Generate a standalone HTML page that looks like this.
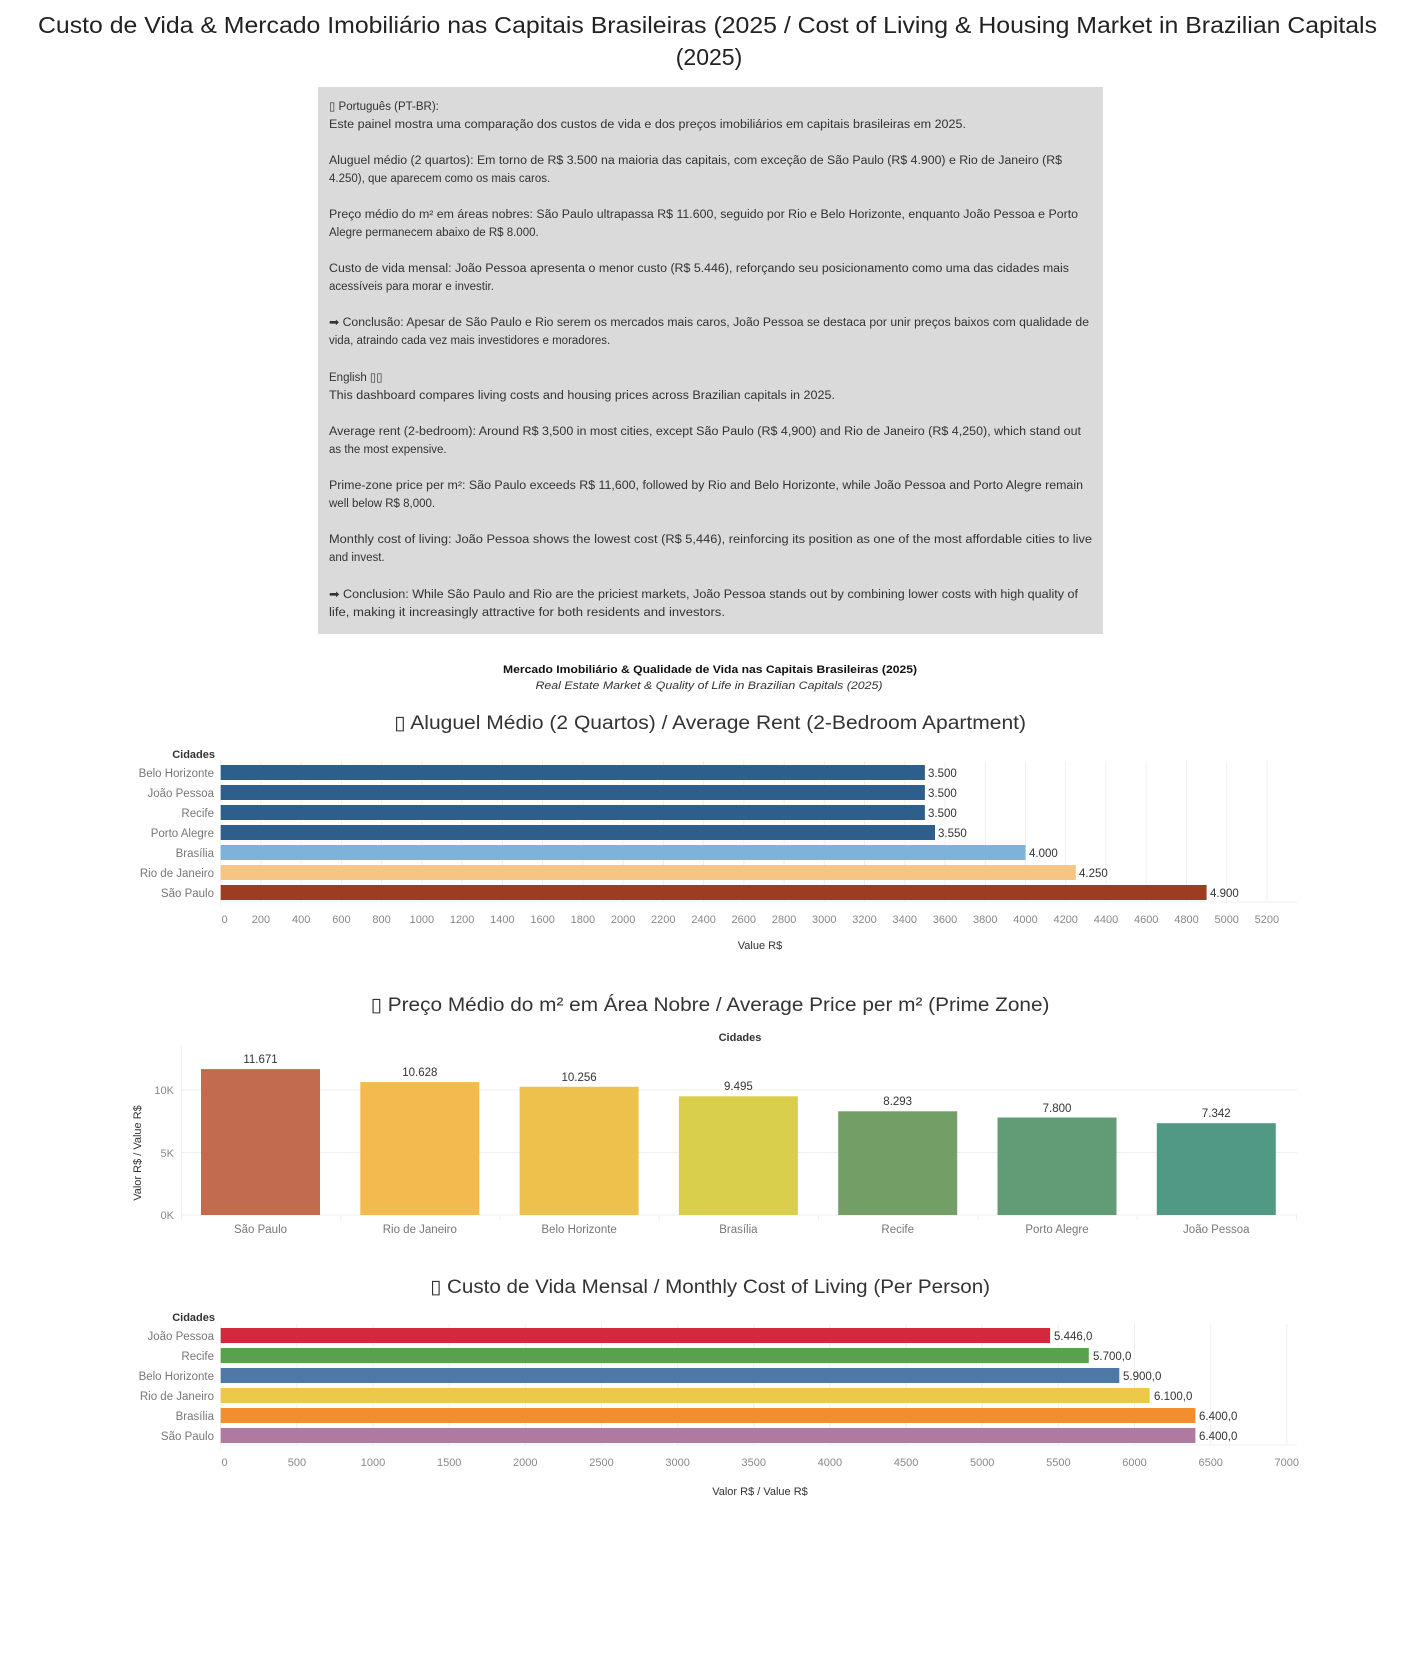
<!DOCTYPE html>
<html><head><meta charset="utf-8"><style>
html,body{margin:0;padding:0;background:#fff;}
svg{display:block;font-family:"Liberation Sans","DejaVu Sans",sans-serif;}
</style></head><body>
<svg width="1415" height="1663" viewBox="0 0 1415 1663" xmlns="http://www.w3.org/2000/svg">
<rect width="1415" height="1663" fill="#fff"/>
<text x="707.5" y="33" font-size="23" fill="#222" text-anchor="middle" textLength="1339" lengthAdjust="spacingAndGlyphs">Custo de Vida &amp; Mercado Imobiliário nas Capitais Brasileiras (2025 / Cost of Living &amp; Housing Market in Brazilian Capitals</text>
<text x="709" y="65" font-size="23" fill="#222" text-anchor="middle">(2025)</text>

<rect x="318" y="87" width="785" height="547" fill="#dadada"/>
<g font-size="11.5" fill="#333">
<text x="329" y="110">▯ Português (PT-BR):</text>
<text x="329" y="128" textLength="637" lengthAdjust="spacingAndGlyphs">Este painel mostra uma comparação dos custos de vida e dos preços imobiliários em capitais brasileiras em 2025.</text>
<text x="329" y="164" textLength="733" lengthAdjust="spacingAndGlyphs">Aluguel médio (2 quartos): Em torno de R$ 3.500 na maioria das capitais, com exceção de São Paulo (R$ 4.900) e Rio de Janeiro (R$</text>
<text x="329" y="182">4.250), que aparecem como os mais caros.</text>
<text x="329" y="218" textLength="749" lengthAdjust="spacingAndGlyphs">Preço médio do m² em áreas nobres: São Paulo ultrapassa R$ 11.600, seguido por Rio e Belo Horizonte, enquanto João Pessoa e Porto</text>
<text x="329" y="236">Alegre permanecem abaixo de R$ 8.000.</text>
<text x="329" y="272" textLength="740" lengthAdjust="spacingAndGlyphs">Custo de vida mensal: João Pessoa apresenta o menor custo (R$ 5.446), reforçando seu posicionamento como uma das cidades mais</text>
<text x="329" y="290">acessíveis para morar e investir.</text>
<text x="329" y="326" textLength="760" lengthAdjust="spacingAndGlyphs">➡ Conclusão: Apesar de São Paulo e Rio serem os mercados mais caros, João Pessoa se destaca por unir preços baixos com qualidade de</text>
<text x="329" y="344">vida, atraindo cada vez mais investidores e moradores.</text>
<text x="329" y="381">English ▯▯</text>
<text x="329" y="399" textLength="506" lengthAdjust="spacingAndGlyphs">This dashboard compares living costs and housing prices across Brazilian capitals in 2025.</text>
<text x="329" y="435" textLength="752" lengthAdjust="spacingAndGlyphs">Average rent (2-bedroom): Around R$ 3,500 in most cities, except São Paulo (R$ 4,900) and Rio de Janeiro (R$ 4,250), which stand out</text>
<text x="329" y="453">as the most expensive.</text>
<text x="329" y="489" textLength="754" lengthAdjust="spacingAndGlyphs">Prime-zone price per m²: São Paulo exceeds R$ 11,600, followed by Rio and Belo Horizonte, while João Pessoa and Porto Alegre remain</text>
<text x="329" y="507">well below R$ 8,000.</text>
<text x="329" y="543" textLength="763" lengthAdjust="spacingAndGlyphs">Monthly cost of living: João Pessoa shows the lowest cost (R$ 5,446), reinforcing its position as one of the most affordable cities to live</text>
<text x="329" y="561">and invest.</text>
<text x="329" y="598" textLength="749" lengthAdjust="spacingAndGlyphs">➡ Conclusion: While São Paulo and Rio are the priciest markets, João Pessoa stands out by combining lower costs with high quality of</text>
<text x="329" y="616" textLength="396" lengthAdjust="spacingAndGlyphs">life, making it increasingly attractive for both residents and investors.</text>
</g>

<text x="710" y="673" font-size="11" font-weight="bold" fill="#111" text-anchor="middle" textLength="414" lengthAdjust="spacingAndGlyphs">Mercado Imobiliário &amp; Qualidade de Vida nas Capitais Brasileiras (2025)</text>
<text x="709" y="689" font-size="11" font-style="italic" fill="#333" text-anchor="middle" textLength="347" lengthAdjust="spacingAndGlyphs">Real Estate Market &amp; Quality of Life in Brazilian Capitals (2025)</text>

<text x="710" y="729" font-size="19" fill="#333" text-anchor="middle" textLength="632" lengthAdjust="spacingAndGlyphs">▯ Aluguel Médio (2 Quartos) / Average Rent (2-Bedroom Apartment)</text>
<text x="215" y="758" font-size="11" font-weight="bold" fill="#333" text-anchor="end">Cidades</text>
<g stroke="#efefef" stroke-width="1">
<line x1="260.9" y1="761" x2="260.9" y2="902"/><line x1="301.2" y1="761" x2="301.2" y2="902"/><line x1="341.4" y1="761" x2="341.4" y2="902"/><line x1="381.6" y1="761" x2="381.6" y2="902"/><line x1="421.9" y1="761" x2="421.9" y2="902"/><line x1="462.1" y1="761" x2="462.1" y2="902"/><line x1="502.4" y1="761" x2="502.4" y2="902"/><line x1="542.6" y1="761" x2="542.6" y2="902"/><line x1="582.9" y1="761" x2="582.9" y2="902"/><line x1="623.1" y1="761" x2="623.1" y2="902"/><line x1="663.3" y1="761" x2="663.3" y2="902"/><line x1="703.6" y1="761" x2="703.6" y2="902"/><line x1="743.8" y1="761" x2="743.8" y2="902"/><line x1="784.1" y1="761" x2="784.1" y2="902"/><line x1="824.3" y1="761" x2="824.3" y2="902"/><line x1="864.5" y1="761" x2="864.5" y2="902"/><line x1="904.8" y1="761" x2="904.8" y2="902"/><line x1="945.0" y1="761" x2="945.0" y2="902"/><line x1="985.3" y1="761" x2="985.3" y2="902"/><line x1="1025.5" y1="761" x2="1025.5" y2="902"/><line x1="1065.7" y1="761" x2="1065.7" y2="902"/><line x1="1106.0" y1="761" x2="1106.0" y2="902"/><line x1="1146.2" y1="761" x2="1146.2" y2="902"/><line x1="1186.5" y1="761" x2="1186.5" y2="902"/><line x1="1226.7" y1="761" x2="1226.7" y2="902"/><line x1="1266.9" y1="761" x2="1266.9" y2="902"/>
<line x1="220.7" y1="902" x2="1297" y2="902"/><line x1="220.7" y1="761" x2="220.7" y2="906"/>
</g>
<g font-size="11.5" fill="#777" text-anchor="end">
<text x="214" y="777">Belo Horizonte</text><text x="214" y="797">João Pessoa</text><text x="214" y="817">Recife</text><text x="214" y="837">Porto Alegre</text><text x="214" y="857">Brasília</text><text x="214" y="877">Rio de Janeiro</text><text x="214" y="897">São Paulo</text>
</g>
<rect x="220.7" y="765" width="704.2" height="15" fill="#2e5e8b"/>
<rect x="220.7" y="785" width="704.2" height="15" fill="#2e5e8b"/>
<rect x="220.7" y="805" width="704.2" height="15" fill="#2e5e8b"/>
<rect x="220.7" y="825" width="714.3" height="15" fill="#2e5e8b"/>
<rect x="220.7" y="845" width="804.8" height="15" fill="#7fb2d8"/>
<rect x="220.7" y="865" width="855.1" height="15" fill="#f5c586"/>
<rect x="220.7" y="885" width="985.9" height="15" fill="#9e3b23"/>
<g font-size="11.5" fill="#333">
<text x="928" y="777">3.500</text><text x="928" y="797">3.500</text><text x="928" y="817">3.500</text><text x="938" y="837">3.550</text><text x="1029" y="857">4.000</text><text x="1079" y="877">4.250</text><text x="1210" y="897">4.900</text>
</g>
<g font-size="11" fill="#888" text-anchor="middle">
<text x="224.5" y="923">0</text><text x="260.9" y="923">200</text><text x="301.2" y="923">400</text><text x="341.4" y="923">600</text><text x="381.6" y="923">800</text><text x="421.9" y="923">1000</text><text x="462.1" y="923">1200</text><text x="502.4" y="923">1400</text><text x="542.6" y="923">1600</text><text x="582.9" y="923">1800</text><text x="623.1" y="923">2000</text><text x="663.3" y="923">2200</text><text x="703.6" y="923">2400</text><text x="743.8" y="923">2600</text><text x="784.1" y="923">2800</text><text x="824.3" y="923">3000</text><text x="864.5" y="923">3200</text><text x="904.8" y="923">3400</text><text x="945.0" y="923">3600</text><text x="985.3" y="923">3800</text><text x="1025.5" y="923">4000</text><text x="1065.7" y="923">4200</text><text x="1106.0" y="923">4400</text><text x="1146.2" y="923">4600</text><text x="1186.5" y="923">4800</text><text x="1226.7" y="923">5000</text><text x="1266.9" y="923">5200</text>
</g>
<text x="760" y="949" font-size="11" fill="#333" text-anchor="middle">Value R$</text>

<text x="710" y="1011" font-size="19" fill="#333" text-anchor="middle" textLength="679" lengthAdjust="spacingAndGlyphs">▯  Preço Médio do m² em Área Nobre / Average Price per m² (Prime Zone)</text>
<text x="740" y="1041" font-size="11" font-weight="bold" fill="#333" text-anchor="middle">Cidades</text>
<g stroke="#efefef" stroke-width="1">
<line x1="181.4" y1="1090" x2="1297" y2="1090"/><line x1="181.4" y1="1152.5" x2="1297" y2="1152.5"/><line x1="181.4" y1="1215" x2="1297" y2="1215"/>
<line x1="181.4" y1="1046" x2="181.4" y2="1220"/>
<line x1="340.7" y1="1215" x2="340.7" y2="1220"/><line x1="500" y1="1215" x2="500" y2="1220"/><line x1="659.3" y1="1215" x2="659.3" y2="1220"/><line x1="818.6" y1="1215" x2="818.6" y2="1220"/><line x1="977.9" y1="1215" x2="977.9" y2="1220"/><line x1="1137.2" y1="1215" x2="1137.2" y2="1220"/><line x1="1296.5" y1="1215" x2="1296.5" y2="1220"/>
</g>
<g font-size="11" fill="#888" text-anchor="end">
<text x="174" y="1094">10K</text><text x="174" y="1157">5K</text><text x="174" y="1219">0K</text>
</g>
<text transform="translate(141,1153) rotate(-90)" font-size="11" fill="#333" text-anchor="middle">Valor R$ / Value R$</text>
<rect x="201" y="1069.1" width="119" height="145.9" fill="#c26b4f"/>
<rect x="360.3" y="1082.1" width="119" height="132.9" fill="#f2ba4f"/>
<rect x="519.6" y="1086.8" width="119" height="128.2" fill="#ecc14c"/>
<rect x="678.9" y="1096.3" width="119" height="118.7" fill="#d9cf4b"/>
<rect x="838.2" y="1111.3" width="119" height="103.7" fill="#739f66"/>
<rect x="997.5" y="1117.5" width="119" height="97.5" fill="#629c76"/>
<rect x="1156.8" y="1123.2" width="119" height="91.8" fill="#519885"/>
<g font-size="11.5" fill="#333" text-anchor="middle">
<text x="260.5" y="1063">11.671</text><text x="419.8" y="1076">10.628</text><text x="579.1" y="1081">10.256</text><text x="738.4" y="1090">9.495</text><text x="897.7" y="1105">8.293</text><text x="1057" y="1112">7.800</text><text x="1216.3" y="1117">7.342</text>
</g>
<g font-size="11.5" fill="#777" text-anchor="middle">
<text x="260.5" y="1233">São Paulo</text><text x="419.8" y="1233">Rio de Janeiro</text><text x="579.1" y="1233">Belo Horizonte</text><text x="738.4" y="1233">Brasília</text><text x="897.7" y="1233">Recife</text><text x="1057" y="1233">Porto Alegre</text><text x="1216.3" y="1233">João Pessoa</text>
</g>

<text x="710" y="1293" font-size="19" fill="#333" text-anchor="middle" textLength="560" lengthAdjust="spacingAndGlyphs">▯ Custo de Vida Mensal / Monthly Cost of Living (Per Person)</text>
<text x="215" y="1321" font-size="11" font-weight="bold" fill="#333" text-anchor="end">Cidades</text>
<g stroke="#efefef" stroke-width="1">
<line x1="296.9" y1="1324" x2="296.9" y2="1445"/><line x1="373.0" y1="1324" x2="373.0" y2="1445"/><line x1="449.2" y1="1324" x2="449.2" y2="1445"/><line x1="525.3" y1="1324" x2="525.3" y2="1445"/><line x1="601.5" y1="1324" x2="601.5" y2="1445"/><line x1="677.6" y1="1324" x2="677.6" y2="1445"/><line x1="753.8" y1="1324" x2="753.8" y2="1445"/><line x1="829.9" y1="1324" x2="829.9" y2="1445"/><line x1="906.1" y1="1324" x2="906.1" y2="1445"/><line x1="982.2" y1="1324" x2="982.2" y2="1445"/><line x1="1058.4" y1="1324" x2="1058.4" y2="1445"/><line x1="1134.5" y1="1324" x2="1134.5" y2="1445"/><line x1="1210.7" y1="1324" x2="1210.7" y2="1445"/><line x1="1286.8" y1="1324" x2="1286.8" y2="1445"/>
<line x1="220.7" y1="1445" x2="1297" y2="1445"/><line x1="220.7" y1="1324" x2="220.7" y2="1449"/>
</g>
<g font-size="11.5" fill="#777" text-anchor="end">
<text x="214" y="1340">João Pessoa</text><text x="214" y="1360">Recife</text><text x="214" y="1380">Belo Horizonte</text><text x="214" y="1400">Rio de Janeiro</text><text x="214" y="1420">Brasília</text><text x="214" y="1440">São Paulo</text>
</g>
<rect x="220.7" y="1328" width="829.4" height="15" fill="#d3293c"/>
<rect x="220.7" y="1348" width="868.1" height="15" fill="#59a14f"/>
<rect x="220.7" y="1368" width="898.6" height="15" fill="#4e79a7"/>
<rect x="220.7" y="1388" width="929.0" height="15" fill="#ecc948"/>
<rect x="220.7" y="1408" width="974.7" height="15" fill="#f28e2c"/>
<rect x="220.7" y="1428" width="974.7" height="15" fill="#b07aa0"/>
<g font-size="11.5" fill="#333">
<text x="1054" y="1340">5.446,0</text><text x="1093" y="1360">5.700,0</text><text x="1123" y="1380">5.900,0</text><text x="1154" y="1400">6.100,0</text><text x="1199" y="1420">6.400,0</text><text x="1199" y="1440">6.400,0</text>
</g>
<g font-size="11" fill="#888" text-anchor="middle">
<text x="224.5" y="1466">0</text><text x="296.9" y="1466">500</text><text x="373.0" y="1466">1000</text><text x="449.2" y="1466">1500</text><text x="525.3" y="1466">2000</text><text x="601.5" y="1466">2500</text><text x="677.6" y="1466">3000</text><text x="753.8" y="1466">3500</text><text x="829.9" y="1466">4000</text><text x="906.1" y="1466">4500</text><text x="982.2" y="1466">5000</text><text x="1058.4" y="1466">5500</text><text x="1134.5" y="1466">6000</text><text x="1210.7" y="1466">6500</text><text x="1286.8" y="1466">7000</text>
</g>
<text x="760" y="1495" font-size="11" fill="#333" text-anchor="middle">Valor R$ / Value R$</text>
</svg>
</body></html>
